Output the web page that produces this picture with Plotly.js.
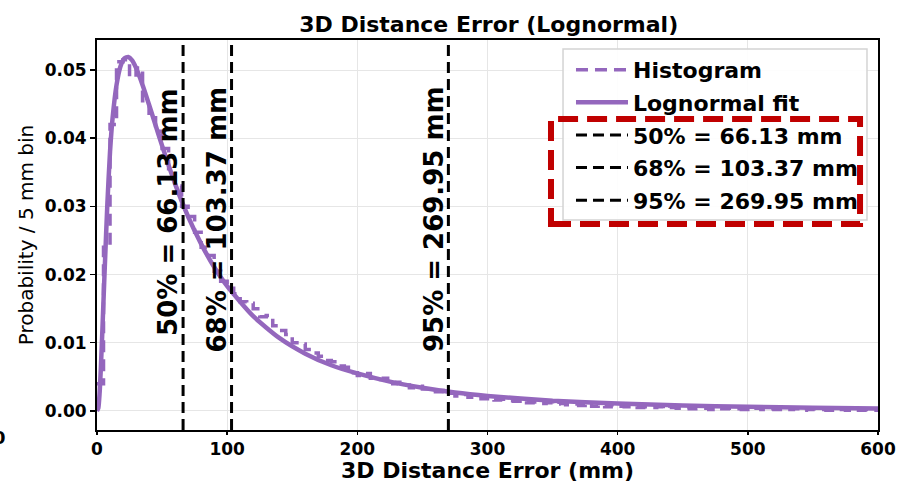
<!DOCTYPE html>
<html>
<head>
<meta charset="utf-8">
<script src="https://cdn.plot.ly/plotly-3.0.1.min.js"></script>
<style>html,body{margin:0;padding:0;background:#fff;}#chart{width:900px;height:483px;}</style>
</head>
<body>
<div id="chart"></div>
<script>
// ---- data ----
const binWidth = 5; // mm
const histValues = [
  0.0040,0.0240,0.0420,0.0512,0.0515,0.0490,0.0503,0.0455,0.0430,0.0410,
  0.0385,0.0355,0.0330,0.0300,0.0285,0.0262,0.0240,0.0228,0.0205,0.0190,
  0.0180,0.0172,0.0160,0.0158,0.0150,0.0138,0.0140,0.0125,0.0118,0.0112,
  0.0100,0.0098,0.0090,0.0085,0.0080,0.0074,0.0072,0.0066,0.0064,0.0056,
  0.0052,0.0055,0.0048,0.0046,0.0048,0.0040,0.0042,0.0038,0.0034,0.0036,
  0.0032,0.0030,0.0028,0.0030,0.0026,0.0022,0.0024,0.0020,0.0021,0.0018,
  0.0019,0.0016,0.0017,0.0015,0.0014,0.0016,0.0012,0.0013,0.0011,0.0012,
  0.0010,0.0011,0.0009,0.0010,0.0008,0.0012,0.0007,0.0008,0.0006,0.0009,
  0.0007,0.0006,0.0007,0.0005,0.0006,0.0005,0.0006,0.0004,0.0005,0.0004,
  0.0005,0.0003,0.0004,0.0004,0.0002,0.0004,0.0003,0.0004,0.0003,0.0002,
  0.0003,0.0004,0.0002,0.0003,0.0002,0.0003,0.0002,0.0003,0.0001,0.0002,
  0.0003,0.0002,0.0001,0.0002,0.0002,0.0001,0.0002,0.0001,0.0002,0.0001
];
const fitX = [0,1,2,3,4,5,6,8,10,12,15,18,21,24,27,30,35,40,45,50,60,70,80,90,100,120,140,160,180,200,225,250,275,300,350,400,450,500,550,600];
const fitY = [0,0.0004,0.0026,0.0065,0.0112,0.0162,0.0212,0.0305,0.0380,0.0430,0.0478,0.0505,0.0517,0.0519,0.0514,0.0503,0.0478,0.0449,0.0419,0.0389,0.0333,0.0285,0.0245,0.0211,0.0183,0.0139,0.0107,0.0084,0.0067,0.0055,0.0043,0.0034,0.0027,0.0022,0.0015,0.0011,0.0008,0.0006,0.00045,0.00035];
const pctLabels = ["50%", "68%", "95%"];
const pctValues = [66.13, 103.37, 269.95];
const pctTextY = [0.0292, 0.0280, 0.0282];
const xTicks = [0,100,200,300,400,500,600];
const yTicks = [0.00,0.01,0.02,0.03,0.04,0.05];
const xRange = [0, 600];
const yRange = [-0.0028, 0.0544];

// ---- build ----
const purple = '#9467bd';
const font = 'DejaVu Sans, Verdana, sans-serif';
const histX = histValues.map((_, i) => i * binWidth);
const histY = histValues.slice();
histX.push(histValues.length * binWidth);
histY.push(histValues[histValues.length - 1]);

const traces = [
  {x: histX, y: histY, type: 'scatter', mode: 'lines', name: 'Histogram', legendgroup: 'g0',
   line: {color: purple, width: 3.5, dash: '12px,7px', shape: 'hv'}},
  {x: fitX, y: fitY, type: 'scatter', mode: 'lines', name: 'Lognormal fit', legendgroup: 'g1',
   line: {color: purple, width: 4.5, shape: 'spline', smoothing: 0.6}}
];
pctValues.forEach((v, i) => {
  traces.push({x: [v, v], y: [yRange[0], yRange[1]], type: 'scatter', mode: 'lines',
    name: pctLabels[i] + ' = ' + v.toFixed(2) + ' mm', legendgroup: 'p' + i,
    line: {color: '#000', width: 3, dash: '11px,6px'}});
});

const annotations = pctValues.map((v, i) => ({
  x: v, y: pctTextY[i], xref: 'x', yref: 'y', showarrow: false,
  text: pctLabels[i] + ' = ' + v.toFixed(2) + ' mm', textangle: -90,
  xanchor: 'right', yanchor: 'middle', xshift: 2,
  font: {family: font, size: 26, color: '#000', weight: 'bold'}
}));
annotations.push({x: -0.1242, y: -0.018, xref: 'paper', yref: 'paper', showarrow: false,
  text: '0', xanchor: 'center', yanchor: 'middle',
  font: {family: font, size: 18, color: '#000', weight: 'bold'}});

const layout = {
  width: 900, height: 483,
  margin: {l: 97, r: 22, t: 40, b: 53},
  paper_bgcolor: '#fff', plot_bgcolor: '#fff',
  font: {family: font, color: '#000'},
  title: {text: '3D Distance Error (Lognormal)', x: 0.543, xanchor: 'center', y: 0.950, yanchor: 'middle',
          font: {family: font, size: 22, color: '#000', weight: 'bold'}},
  xaxis: {range: xRange, tickvals: xTicks, ticktext: xTicks.map(String),
          showgrid: true, gridcolor: '#e6e6e6', gridwidth: 1, zeroline: false,
          showline: true, linecolor: '#000', linewidth: 2, mirror: true,
          ticks: 'outside', ticklen: 3, tickwidth: 1.5, tickcolor: '#000',
          tickfont: {family: font, size: 17, weight: 'bold'},
          title: {text: '3D Distance Error (mm)', standoff: 12, font: {family: font, size: 22, weight: 'bold'}}},
  yaxis: {range: yRange, tickvals: yTicks, ticktext: yTicks.map(v => v.toFixed(2)),
          showgrid: true, gridcolor: '#e6e6e6', gridwidth: 1, zeroline: false,
          showline: true, linecolor: '#000', linewidth: 2, mirror: true,
          ticks: 'outside', ticklen: 5, tickwidth: 1.5, tickcolor: '#000',
          tickfont: {family: font, size: 17, weight: 'bold'},
          title: {text: 'Probability / 5 mm bin', standoff: 6, font: {family: font, size: 20}}},
  showlegend: true,
  legend: {x: 0.6069, y: 0.977, xanchor: 'left', yanchor: 'top', traceorder: 'grouped', tracegroupgap: 1,
           bgcolor: 'rgba(0,0,0,0)', borderwidth: 0, itemwidth: 52,
           font: {family: font, size: 22, color: '#000', weight: 'bold'}},
  shapes: [
    {type: 'rect', xref: 'paper', yref: 'paper', x0: 0.5967, x1: 0.9859, y0: 0.5385, y1: 0.9769,
     fillcolor: 'rgba(255,255,255,0.9)', line: {color: '#d4d4d4', width: 1.5}, layer: 'above'},
    {type: 'rect', xref: 'paper', yref: 'paper', x0: 0.5813, x1: 0.9770, y0: 0.5282, y1: 0.7974,
     fillcolor: 'rgba(0,0,0,0)', line: {color: '#c00000', width: 6, dash: '20px,9px'}, layer: 'above'}
  ],
  annotations: annotations
};

Plotly.newPlot('chart', traces, layout, {displayModeBar: false, staticPlot: true});
</script>
</body>
</html>
